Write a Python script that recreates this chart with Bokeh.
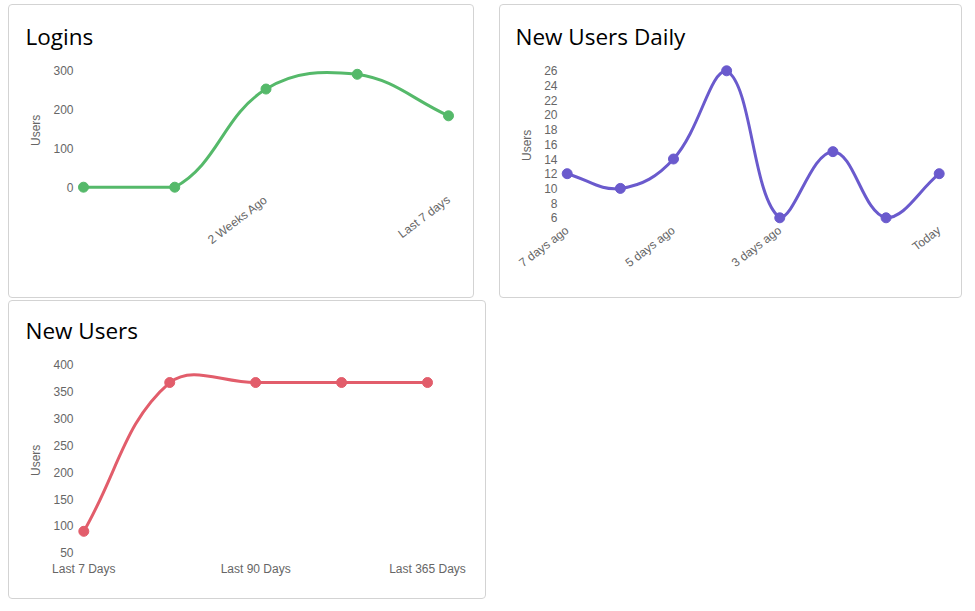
import math
from bokeh.plotting import figure
from bokeh.layouts import column, row
from bokeh.models import FixedTicker, Range1d, Title
from bokeh.core.properties import value
from bokeh.embed import file_html
from bokeh.resources import INLINE

# ---------------- data ----------------
login_values = [0, 0, 253, 291, 184]
login_tick_index = [2, 4]
login_tick_labels = ["2 Weeks Ago", "Last 7 days"]
login_y_ticks = [0, 100, 200, 300]

daily_categories = ["7 days ago", "6 days ago", "5 days ago", "4 days ago",
                    "3 days ago", "2 days ago", "Yesterday", "Today"]
daily_values = [12, 10, 14, 26, 6, 15, 6, 12]
daily_tick_index = [0, 2, 4, 7]
daily_y_ticks = [6, 8, 10, 12, 14, 16, 18, 20, 22, 24, 26]

newusers_categories = ["Last 7 Days", "Last 30 Days", "Last 90 Days",
                       "Last 180 Days", "Last 365 Days"]
newusers_values = [90, 367, 367, 367, 367]
newusers_tick_index = [0, 2, 4]
newusers_y_ticks = [50, 100, 150, 200, 250, 300, 350, 400]

GREEN = "#55b96a"
PURPLE = "#6a5acd"
RED = "#e25d6b"
TICK_COLOR = "#666666"
TICK_FONT = "Liberation Sans"
TITLE_FONT = "Open Sans"


def spline_controls(xs, ys, sx, sy, xlim, ylim, t=0.4):
    """Chart.js style control points (tension 0.4) capped to the chart area."""
    n = len(xs)
    c1, c2 = [], []
    for i in range(n):
        ip = i - 1 if i > 0 else i
        inx = i + 1 if i < n - 1 else i
        d01 = math.hypot((xs[i] - xs[ip]) * sx, (ys[i] - ys[ip]) * sy)
        d12 = math.hypot((xs[inx] - xs[i]) * sx, (ys[inx] - ys[i]) * sy)
        tot = d01 + d12
        s01 = d01 / tot if tot else 0.0
        s12 = d12 / tot if tot else 0.0
        fa, fb = t * s01, t * s12
        dx = xs[inx] - xs[ip]
        dy = ys[inx] - ys[ip]
        a = [xs[i] - fa * dx, ys[i] - fa * dy]
        b = [xs[i] + fb * dx, ys[i] + fb * dy]
        for pt in (a, b):
            pt[0] = min(max(pt[0], xlim[0]), xlim[1])
            pt[1] = min(max(pt[1], ylim[0]), ylim[1])
        c1.append(a)
        c2.append(b)
    return c1, c2


def make_card(title, title_x, values, y_ticks, tick_index, tick_labels, color,
              W, H, box, rotate, users_cy, title_standoff):
    # box: data area in card pixels (x0, x1, y0top, y1bottom)
    x0, x1, y0, y1 = box
    pad = 8
    L = int(round(x0 - pad))
    R = int(round(W - x1 - pad))
    T = int(round(y0 - pad))
    B = 8 if rotate else int(round(H - y1 - pad))
    n = len(values)
    xmin, xmax = 0, n - 1
    ymin, ymax = y_ticks[0], y_ticks[-1]
    sx = (x1 - x0) / (xmax - xmin)
    sy = (y1 - y0) / (ymax - ymin)
    Fw = W - L - R
    Fh = H - T - B
    xr0 = xmin - (x0 - L) / sx
    xr1 = xr0 + Fw / sx
    yr1 = ymax + (y0 - T) / sy
    yr0 = yr1 - Fh / sy

    p = figure(width=W, height=H, output_backend="svg", toolbar_location=None,
               x_range=Range1d(xr0, xr1), y_range=Range1d(yr0, yr1),
               min_border_left=L, min_border_right=R,
               min_border_top=T, min_border_bottom=B)
    p.outline_line_color = None
    p.grid.visible = False
    p.background_fill_color = None
    p.border_fill_color = None
    p.styles = {"outline": "1px solid #d3d3d3", "outline-offset": "-1px",
                "border-radius": "4px"}

    # title
    p.title.text = title
    p.title.align = "left"
    p.title.offset = title_x - L
    p.title.text_font = TITLE_FONT
    p.title.text_font_size = "22.5px"
    p.title.text_font_style = "normal"
    p.title.text_color = "#000000"
    p.title.standoff = title_standoff

    xs = list(range(n))
    c1, c2 = spline_controls(xs, values, sx, sy, (xmin, xmax), (ymin, ymax))
    p.bezier(x0=xs[:-1], y0=values[:-1], x1=xs[1:], y1=values[1:],
             cx0=[c2[i][0] for i in range(n - 1)], cy0=[c2[i][1] for i in range(n - 1)],
             cx1=[c1[i + 1][0] for i in range(n - 1)], cy1=[c1[i + 1][1] for i in range(n - 1)],
             line_color=color, line_width=3)
    p.scatter(xs, values, size=10, fill_color=color, line_color=color)

    for ax in (p.xaxis[0], p.yaxis[0]):
        ax.axis_line_color = None
        ax.major_tick_line_color = None
        ax.minor_tick_line_color = None
        ax.major_tick_out = 0
        ax.major_tick_in = 0
        ax.major_label_text_color = TICK_COLOR
        ax.major_label_text_font = TICK_FONT
        ax.major_label_text_font_size = "12px"

    p.yaxis.ticker = FixedTicker(ticks=y_ticks)
    p.yaxis.major_label_standoff = 2

    # "Users" label at the left; align="left" starts the upright text at the frame bottom
    frame_bottom = T + Fh
    half_len = 15.5
    p.add_layout(Title(text="Users", align="left", offset=frame_bottom - (users_cy + half_len),
                       text_font=TICK_FONT, text_font_size="12px",
                       text_font_style="normal", text_color=TICK_COLOR,
                       standoff=15), "left")

    if rotate:
        p.xaxis.visible = False
        r = p.text(x=tick_index, y=[ymin] * len(tick_index), text=tick_labels,
                   angle=rotate, text_align="right", text_baseline="middle",
                   y_offset=11, x_offset=0, text_color=TICK_COLOR,
                   text_font=value(TICK_FONT), text_font_size="12px")
        r.level = "overlay"
    else:
        p.xaxis.ticker = FixedTicker(ticks=tick_index)
        p.xaxis.major_label_overrides = {i: lab for i, lab in zip(tick_index, tick_labels)}
        p.xaxis.major_label_standoff = 1
    return p


p1 = make_card("Logins", 17, login_values, login_y_ticks, login_tick_index,
               login_tick_labels, GREEN, 466, 294, (75, 440, 66.3, 182.7), 0.65, 126, 22)
p2 = make_card("New Users Daily", 16, daily_values, daily_y_ticks, daily_tick_index,
               [daily_categories[i] for i in daily_tick_index], PURPLE, 463, 294,
               (67.7, 439.7, 66.3, 213.3), 0.65, 141, 22)
p3 = make_card("New Users", 17, newusers_values, newusers_y_ticks, newusers_tick_index,
               [newusers_categories[i] for i in newusers_tick_index], RED, 478, 299,
               (75.3, 419, 64.3, 252.3), None, 160, 21)

layout = column(row(p1, p2, spacing=25), p3, spacing=2, margin=(4, 0, 0, 8))

open("out.html", "w").write(file_html(layout, INLINE))
